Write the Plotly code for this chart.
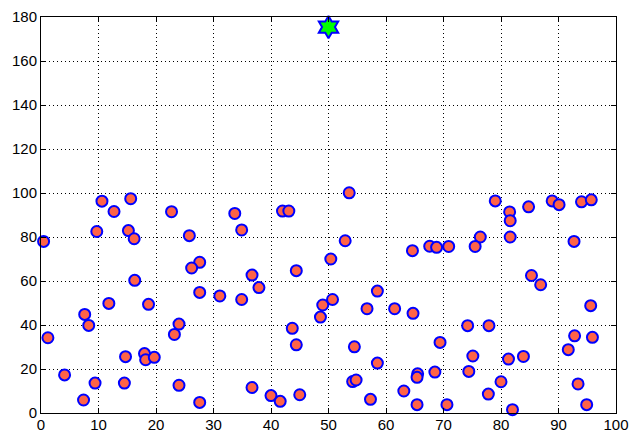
import plotly.graph_objects as go

x_pts = [0.45, 1.2, 4.1, 7.4, 7.6, 8.3, 9.4, 9.7, 10.6, 12.7,
         11.8, 14.5, 14.7, 15.2, 16.2, 15.6, 16.3, 18.0, 18.2, 19.7,
         18.7, 22.7, 23.2, 24.0, 24.0, 25.8, 27.6, 26.2, 27.6, 27.6,
         31.1, 33.7, 34.9, 42.0, 43.1, 52.9, 50.4, 44.4, 36.7, 37.9,
         34.9, 49.0, 50.7, 48.6, 58.5, 56.7, 61.5, 64.7, 64.6, 43.7,
         44.4, 54.5, 58.5, 54.2, 54.8, 36.7, 40.0, 41.6, 45.0, 57.3,
         63.1, 65.5, 65.4, 65.4, 67.6, 68.8, 70.9, 76.4, 75.5, 79.0,
         81.5, 81.6, 81.6, 84.8, 88.9, 90.1, 94.0, 95.7, 92.7, 85.3,
         86.9, 95.6, 74.2, 77.9, 69.4, 92.8, 95.9, 91.7, 75.1, 81.3,
         83.9, 68.5, 74.4, 80.0, 93.4, 77.8, 70.6, 82.0, 94.9, 53.6]
y_pts = [78.0, 34.2, 17.3, 5.9, 44.8, 39.8, 13.6, 82.5, 96.3, 91.6,
         49.8, 13.6, 25.6, 82.9, 79.2, 97.4, 60.3, 27.0, 24.2, 25.3,
         49.4, 91.5, 35.7, 40.4, 12.6, 80.6, 68.5, 65.9, 54.8, 4.8,
         53.2, 90.7, 83.2, 91.8, 91.8, 78.3, 70.0, 64.7, 62.7, 57.0,
         51.6, 49.1, 51.6, 43.6, 55.4, 47.4, 47.4, 45.3, 73.8, 38.5,
         31.0, 30.1, 22.7, 14.3, 15.0, 11.6, 7.9, 5.3, 8.3, 6.2,
         10.0, 17.8, 16.2, 3.8, 75.8, 75.3, 75.7, 80.0, 75.7, 96.4,
         91.4, 87.4, 80.0, 93.7, 96.4, 94.7, 96.0, 96.9, 78.0, 62.5,
         58.3, 48.8, 39.7, 39.7, 32.1, 35.1, 34.4, 28.8, 25.9, 24.5,
         25.7, 18.6, 18.9, 14.2, 13.2, 8.6, 3.8, 1.5, 3.8, 100.1]
star_x = [50.0]
star_y = [175.4]

x_ticks = [0, 10, 20, 30, 40, 50, 60, 70, 80, 90, 100]
y_ticks = [0, 20, 40, 60, 80, 100, 120, 140, 160, 180]

fig = go.Figure()
fig.add_trace(go.Scatter(
    x=x_pts, y=y_pts, mode="markers",
    marker=dict(symbol="circle", size=11, color="#FF6347",
                line=dict(color="#0000FF", width=2)),
    showlegend=False, cliponaxis=False))
fig.add_trace(go.Scatter(
    x=star_x, y=star_y, mode="markers",
    marker=dict(symbol="hexagram", size=17, color="#00FF00",
                line=dict(color="#0000FF", width=2)),
    showlegend=False, cliponaxis=False))

axis_common = dict(
    showline=True, linecolor="black", linewidth=1, mirror="ticks",
    ticks="inside", ticklen=5, tickcolor="black",
    showgrid=True, gridcolor="black", gridwidth=1, griddash="1px,3px",
    zeroline=False, automargin=False,
    tickfont=dict(family="Liberation Sans, Arial, sans-serif", size=15, color="black"),
)
fig.update_xaxes(range=[0, 100], tickvals=x_ticks, ticktext=[str(v) for v in x_ticks],
                 ticklabelstandoff=-2, **axis_common)
fig.update_yaxes(range=[0, 180], tickvals=y_ticks, ticktext=[str(v) for v in y_ticks], **axis_common)

fig.update_layout(
    width=630, height=432,
    margin=dict(l=41, r=14, t=17, b=19, pad=0),
    paper_bgcolor="white", plot_bgcolor="white",
)
fig.write_html(
    "out.html",
    config={"displayModeBar": False},
    post_script="document.body.style.margin='0';document.body.style.padding='0';document.body.style.overflow='hidden';",
)
